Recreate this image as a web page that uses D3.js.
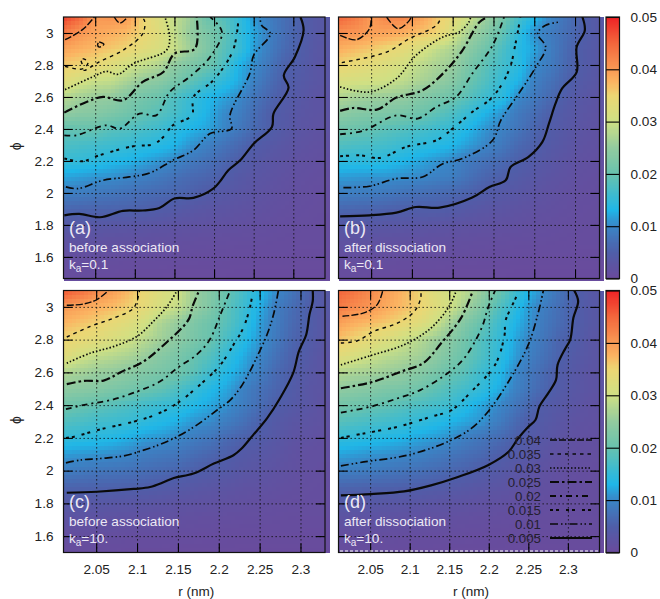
<!DOCTYPE html>
<html>
<head>
<meta charset="utf-8">
<script src="https://cdnjs.cloudflare.com/ajax/libs/d3/7.8.5/d3.min.js"></script>
<style>
html, body { margin: 0; padding: 0; background: #fff; }
svg { display: block; }
text { font-family: "Liberation Sans", Arial, sans-serif; fill: #222; }
</style>
</head>
<body>
<svg id="chart" width="660" height="599"></svg>
<script>
// Grid the heat values were read at (values are in units of 0.001)
var gridR = [2.01,2.03,2.05,2.07,2.09,2.11,2.13,2.15,2.17,2.19,2.21,2.23,2.25,2.27,2.29,2.31,2.33];
var gridPhi = [3.1,3.0,2.9,2.8,2.7,2.6,2.5,2.4,2.3,2.2,2.1,2.0,1.9,1.8,1.7,1.6,1.5];

var heatA = [
[48,45,40,40.5,40,35,32,29,26,20.5,18.5,15.5,11,9,7,5.3,3.5],
[43,40.5,39,38,37,35,32.5,29,25,22.5,20,15.5,12,9.5,7,5.2,3.5],
[39,38,37,36,35,33,31.5,29.5,26,23,19,16,11.5,9,6.5,5,3.2],
[36,35,34.5,32.5,30.5,29,27.5,24.5,22.5,20.8,18,13,10.5,8,5.5,4.5,3],
[33,31,29.5,29,27,25,24,22,19.5,17,14.8,12.5,9.5,7,5,4,3],
[28,26.5,25.5,25,23,21.5,20.3,17.8,15.5,13.5,12,10.5,8,6,4.5,3.5,2.5],
[25,24,23.5,22.5,21.2,19.8,18.5,17,15,13,10.5,9.3,7,5,4,3,2.5],
[19.5,19.8,20,18.5,18,17,16,14.5,13,12,10.3,8.5,6.5,5,3.8,2.8,2.2],
[17.5,17,16.5,16,15.5,14.5,14,13,11,9.5,8,6.5,4.8,3.8,3,2.3,1.8],
[15.3,15,14.5,13.5,13,12,11,10,8.5,7.5,6.3,5,3.8,3,2.4,1.8,1.5],
[12,11.5,11,10.7,10,9.3,8.5,7.5,6.5,6,5.1,3.8,3,2.5,1.9,1.5,1.2],
[9.2,9,8.5,8,7.5,7,6.5,6,5.5,4.5,3.7,3.1,2.6,2,1.6,1.3,1],
[6.2,6,5.8,5.8,5.6,5.3,4.8,4.2,3.5,3,2.7,2.3,2,1.6,1.3,1.1,.9],
[3.8,3.6,3.5,3.3,3.1,3,2.7,2.4,2.2,2,1.8,1.6,1.4,1.2,1,.9,.8],
[2.2,2.1,2,1.9,1.8,1.7,1.6,1.5,1.3,1.2,1.1,1,1,.9,.8,.7,.7],
[1.2,1.2,1.1,1.1,1,1,.9,.9,.8,.7,.7,.6,.6,.6,.6,.5,.5],
[.7,.7,.6,.6,.5,.5,.5,.4,.4,.4,.4,.3,.3,.3,.3,.3,.3]
];
var heatB = [
[45,43,40,42,42,39.5,36.5,33.5,30,26,22,17,13.5,10,7.5,5.2,3.5],
[41,40.5,39.5,39,38,36.5,35.5,31,26.5,23.5,19.5,15,10.5,8.7,7,5.2,3.5],
[38,37,36,34.7,33.5,31.5,29,27,24,21,17.5,14,12,9,6.5,4.5,3.5],
[35,34,33,32,30.5,28.5,27,25.5,22,19,16.5,14.5,10.5,8.7,6.2,4.5,3.3],
[31.5,31,30.5,30,28.5,27,25.5,23.5,20.5,18,15.2,13,9.5,7.5,5.5,4,3],
[27.5,26.5,26,25.5,25,23.3,22,20.5,18.5,16,14.5,10.3,8.5,6.5,4.5,3.3,2.5],
[24.5,23.5,23,22.5,21.8,20.8,19.3,17.5,15.2,13,11,8.5,7,5.2,3.8,3,2.2],
[21,20.5,19.7,18.7,18,17,16,15,13,11,9.5,8,6,4.5,3.5,2.6,2],
[18,17.3,17,16.5,15.5,14.7,14,13,11.5,10,8.5,6.5,5.3,4,3,2.2,1.8],
[14.7,14.5,14.5,14,13,12,11,10,8.5,7.5,6.5,5.3,4.2,3.2,2.5,1.8,1.5],
[11.5,11.2,11,11,10.5,10.2,9.5,9,7.5,6,5.2,4.2,3.4,2.6,2,1.5,1.2],
[9.3,9,8.8,8.3,7.7,7.2,6.7,6.2,5.5,4.6,3.8,3.2,2.6,2,1.6,1.2,1],
[6.3,6.1,5.9,5.5,5.2,4.9,5,4.4,3.7,3.1,2.7,2.3,1.9,1.6,1.3,1,.9],
[3.8,3.6,3.5,3.3,3.1,3,2.7,2.4,2.2,2,1.8,1.6,1.4,1.2,1,.9,.8],
[2.2,2.1,2,1.9,1.8,1.7,1.6,1.5,1.3,1.2,1.1,1,1,.9,.8,.7,.7],
[1.2,1.2,1.1,1.1,1,1,.9,.9,.8,.7,.7,.6,.6,.6,.6,.5,.5],
[.7,.7,.6,.6,.5,.5,.5,.4,.4,.4,.4,.3,.3,.3,.3,.3,.3]
];
var heatC = [
[46,44,41.5,39.5,37,34.5,32,30,26,23,20,17,13.5,10.5,8,5.5,3.5],
[40,39,38,37,35.5,33.5,31,29,25.5,22.5,19,16,12.5,9,7,5,3.5],
[37.5,36.5,35.5,34,32.5,30.5,27,25,22.5,20.5,18.5,15.5,11.5,9,6.5,5,3],
[35,34,33,31.5,30,28,26,24,22,20,17,14,11,8.5,6,4.5,3],
[33,30.5,29,28,27,25.5,23.5,22,20,18,15,12.5,10,7.5,5.5,4,2.5],
[27.5,26.5,25.5,25,24,23,22,21,19,16,13.5,11.5,9,6.5,5,3.5,2.5],
[24.5,24,23.5,22.5,21.5,20.5,19.5,17.5,15.5,13.5,12,9.5,7.5,6,4.5,3,2.5],
[21,20.3,19.5,18.5,17.5,16.5,15.5,15,13.5,12,10.8,9,7,5,4,3,2],
[18,17.3,16.5,16,15.5,14.5,13.5,12.5,11,10.3,9,7.5,5.5,4,3,2.5,2],
[15,14.5,14,13.5,12.5,11.5,11,10,9,8,6.5,5.5,4.5,3.5,2.5,2,1.5],
[11.5,11.2,11,10.5,10,9,8.5,8,7,6,5.2,4,3.5,2.8,2,1.5,1.5],
[9,8.5,8,7.8,7.5,7,6.5,6,5.2,4.5,4,3.2,2.8,2.2,1.8,1.4,1.2],
[5.8,5.7,5.6,5.5,5.3,5,4.5,4,3.5,3,2.7,2.2,2,1.7,1.4,1.2,1],
[3.8,3.6,3.5,3.3,3.1,3,2.7,2.4,2.2,2,1.8,1.6,1.4,1.2,1.1,1,1],
[2.2,2.1,2,1.9,1.8,1.7,1.6,1.5,1.3,1.2,1.1,1,1,.9,.8,.8,.8],
[1.2,1.2,1.1,1.1,1,1,.9,.9,.8,.7,.7,.6,.6,.6,.6,.5,.5],
[.6,.6,.6,.6,.5,.5,.5,.4,.4,.4,.4,.3,.3,.3,.3,.3,.3]
];
var heatD = [
[45,43.5,41.5,39.5,37.5,35.5,32.5,30.5,28.5,25.5,21,17,13,10.3,7.7,5.3,3.5],
[43,41.5,40.5,38.5,37,35.5,33,30.5,26.5,23,18.5,15,11.5,9,7,5,3.5],
[39.5,38,37,36,34.7,33,30.5,26.5,23,20,16.5,13.5,11,8.5,6.7,5,3.5],
[36.5,35,33.5,32,30,28,26,24,21,18,15.5,12.5,10,8,5.7,4.7,3],
[33,31.5,30,28.5,27.5,26.5,24.8,22.5,20.2,17.7,15.1,12,9.5,7.5,5.5,4,3],
[28,27,26.5,25.8,25,23.7,22.3,20.3,18.7,16,14,10.7,8.5,6.5,4.6,3.5,2.5],
[24.8,24,23.5,22.5,22,21,19.5,18,16.5,15,12.8,10,8,6,4.3,3.3,2.5],
[21.5,20.8,20.2,19.5,18.5,17.5,16.8,16,14,12,10.5,8.5,6.5,4.5,3.6,2.8,2],
[18.5,17.7,17,16.5,15.8,15,14,13,12,11,9.2,7,5,4,3,2.3,1.9],
[15,14.5,14,13.5,13,12,11.5,10.7,9.2,8,7,5.5,4.3,3.3,2.5,1.8,1.5],
[12,11.5,11,10.8,10.2,9.8,9,8.2,7.3,6.5,5.3,4.3,3.5,2.7,1.9,1.5,1.3],
[9.3,9,8.7,8.2,7.8,7.3,6.8,6.2,5.6,4.7,4,3.2,2.7,2,1.5,1.2,1],
[6,5.8,5.6,5.5,5.3,5,4.6,4.2,3.7,3.2,2.8,2.3,2,1.6,1.3,1,.9],
[3.8,3.6,3.5,3.3,3.1,3,2.7,2.5,2.3,2,1.8,1.6,1.4,1.2,1,.9,.9],
[2.2,2.1,2,1.9,1.8,1.7,1.6,1.5,1.3,1.2,1.1,1,1,.9,.8,.8,.8],
[1.2,1.2,1.1,1.1,1,1,.9,.9,.8,.7,.7,.6,.6,.6,.6,.5,.5],
[.6,.6,.6,.6,.5,.5,.5,.4,.4,.4,.4,.3,.3,.3,.3,.3,.3]
];

// Contour lines: [level, r values, phi values]
var contoursA = [
[.005,[2.011,2.030,2.056,2.085,2.110,2.131,2.150,2.174,2.199,2.207,2.218,2.233,2.250,2.273,2.275,2.294,2.288,2.302,2.313,2.309],[1.860,1.869,1.848,1.888,1.890,1.906,1.965,1.969,2.027,2.069,2.142,2.204,2.308,2.413,2.496,2.658,2.735,2.850,3.017,3.100]],
[.01,[2.013,2.028,2.060,2.093,2.119,2.148,2.174,2.195,2.222,2.220,2.245,2.250,2.271,2.260,2.258],[2.038,2.027,2.079,2.100,2.125,2.204,2.267,2.371,2.402,2.485,2.746,2.860,2.996,3.048,3.100]],
[.015,[2.011,2.034,2.055,2.098,2.123,2.136,2.148,2.172,2.174,2.199,2.224,2.231],[2.215,2.198,2.235,2.292,2.304,2.350,2.423,2.485,2.600,2.704,2.892,3.100]],
[.02,[2.011,2.026,2.064,2.081,2.106,2.127,2.144,2.169,2.195,2.210,2.195],[2.360,2.360,2.423,2.402,2.496,2.485,2.631,2.725,2.850,3.006,3.100]],
[.025,[2.011,2.039,2.060,2.085,2.110,2.136,2.150,2.176,2.178],[2.502,2.569,2.600,2.579,2.694,2.756,2.871,2.902,3.100]],
[.03,[2.012,2.051,2.064,2.079,2.098,2.140,2.144,2.138],[2.646,2.735,2.760,2.742,2.808,2.892,2.975,3.100]],
[.035,[2.012,2.034,2.032,2.041,2.036,2.055,2.085,2.110,2.112,2.106],[2.792,2.777,2.840,2.819,2.767,2.819,2.892,2.996,3.080,3.100]],
[.04,[2.012,2.034,2.049],[2.958,3.021,3.100]],
[.04,[2.074,2.081,2.091],[3.100,3.062,3.100]],
[.04,[2.055,2.061,2.055,2.053,2.055],[2.944,2.929,2.912,2.929,2.944]]
];
var contoursB = [
[.005,[2.012,2.048,2.081,2.105,2.134,2.174,2.195,2.215,2.221,2.243,2.260,2.268,2.276,2.284,2.302,2.302,2.312,2.309],[1.854,1.860,1.877,1.912,1.908,1.971,2.037,2.079,2.162,2.225,2.319,2.433,2.558,2.652,2.756,2.912,3.017,3.100]],
[.01,[2.016,2.048,2.081,2.113,2.138,2.162,2.199,2.209,2.231,2.252,2.264,2.254,2.264,2.282],[2.033,2.042,2.090,2.100,2.183,2.215,2.329,2.454,2.621,2.788,2.912,2.996,3.048,3.069]],
[.015,[2.012,2.036,2.061,2.093,2.130,2.150,2.174,2.199,2.219,2.227,2.233],[2.229,2.235,2.219,2.288,2.329,2.402,2.506,2.600,2.767,2.933,3.100]],
[.02,[2.012,2.040,2.081,2.107,2.130,2.154,2.174,2.199,2.213],[2.367,2.388,2.485,2.465,2.538,2.600,2.746,2.923,3.100]],
[.025,[2.012,2.028,2.057,2.081,2.113,2.142,2.162,2.183,2.193],[2.513,2.531,2.521,2.596,2.642,2.767,2.892,3.069,3.100]],
[.03,[2.012,2.048,2.081,2.105,2.138,2.158,2.170,2.172],[2.663,2.631,2.715,2.860,2.975,3.006,3.069,3.100]],
[.035,[2.014,2.069,2.097,2.130,2.136],[2.815,2.881,2.965,3.048,3.100]],
[.04,[2.012,2.032,2.048,2.050],[2.985,2.958,3.027,3.100]],
[.04,[2.069,2.083,2.097,2.099],[3.100,3.027,3.079,3.100]]
];
var contoursC = [
[.005,[2.014,2.051,2.096,2.116,2.133,2.145,2.169,2.194,2.218,2.228,2.242,2.259,2.275,2.291,2.298,2.307,2.311,2.315,2.315],[1.865,1.871,1.888,1.900,1.930,1.955,1.982,2.043,2.094,2.135,2.217,2.319,2.442,2.595,2.728,2.830,2.953,3.035,3.100]],
[.01,[2.013,2.031,2.055,2.084,2.108,2.128,2.149,2.173,2.198,2.214,2.226,2.238,2.248,2.259,2.267,2.273],[2.047,2.065,2.074,2.090,2.125,2.160,2.207,2.278,2.370,2.431,2.503,2.605,2.708,2.830,2.953,3.100]],
[.015,[2.013,2.023,2.055,2.096,2.124,2.149,2.177,2.202,2.218,2.230,2.238,2.242],[2.200,2.207,2.252,2.299,2.344,2.411,2.524,2.646,2.769,2.871,2.994,3.100]],
[.02,[2.013,2.039,2.068,2.100,2.128,2.149,2.173,2.189,2.202,2.214],[2.376,2.405,2.431,2.483,2.544,2.626,2.708,2.800,2.953,3.100]],
[.025,[2.014,2.035,2.059,2.080,2.108,2.133,2.163,2.168,2.176],[2.528,2.548,2.550,2.601,2.667,2.769,2.922,3.004,3.100]],
[.03,[2.014,2.043,2.072,2.100,2.120,2.137,2.149],[2.656,2.718,2.759,2.820,2.912,3.004,3.100]],
[.035,[2.014,2.043,2.072,2.096,2.103],[2.816,2.881,2.933,2.994,3.100]],
[.04,[2.014,2.035,2.051,2.065],[3.010,3.018,3.045,3.100]]
];
var contoursD = [
[.005,[2.013,2.051,2.093,2.127,2.161,2.199,2.225,2.237,2.250,2.259,2.264,2.275,2.285,2.287,2.297,2.303,2.307,2.313,2.308],[1.849,1.857,1.873,1.910,1.961,2.033,2.115,2.196,2.268,2.309,2.391,2.472,2.554,2.646,2.748,2.800,2.933,3.035,3.100]],
[.01,[2.013,2.042,2.097,2.148,2.178,2.199,2.225,2.250,2.263,2.269],[2.029,2.053,2.094,2.176,2.258,2.360,2.544,2.769,2.973,3.100]],
[.015,[2.013,2.042,2.085,2.127,2.153,2.178,2.208,2.220,2.221,2.235,2.237],[2.200,2.227,2.268,2.329,2.370,2.483,2.646,2.830,2.912,3.065,3.100]],
[.02,[2.013,2.051,2.085,2.114,2.148,2.169,2.191,2.199,2.208],[2.354,2.391,2.442,2.493,2.595,2.687,2.871,2.994,3.100]],
[.025,[2.013,2.055,2.089,2.117,2.140,2.165,2.180],[2.503,2.544,2.605,2.656,2.779,2.933,3.100]],
[.03,[2.013,2.051,2.093,2.127,2.150,2.159],[2.646,2.703,2.769,2.871,3.004,3.100]],
[.035,[2.013,2.034,2.055,2.085,2.106,2.114,2.114],[2.779,2.793,2.851,2.902,2.973,3.055,3.100]],
[.04,[2.015,2.042,2.059,2.066],[2.943,2.963,3.014,3.100]]
];

var rTicks = [2.05,2.1,2.15,2.2,2.25,2.3];
var phiTicks = [3,2.8,2.6,2.4,2.2,2,1.8,1.6];
var barTicks = [0,0.01,0.02,0.03,0.04,0.05];
var legendLevels = [.04,.035,.03,.025,.02,.015,.01,.005];

// Colour ramp of the bar
var colorStops = [0,.005,.01,.013,.02,.025,.03,.035,.0375,.04,.045,.05];
var colorValues = ["#6a4a9c","#4f5ea9","#3a85c6","#1fb6e8","#68c2ae","#93cb9f","#cfe084","#ecd673","#fbb462","#f99a55","#f3663c","#ee2225"];
var color = d3.scaleLinear().domain(colorStops).range(colorValues).clamp(true);

// Line style of each contour level
var lineStyle = {
    ".04":   {dash: "7,2",         width: 1.4},
    ".035":  {dash: "3.5,4",       width: 1.4},
    ".03":   {dash: "1.5,2",       width: 1.7},
    ".025":  {dash: "9,3,2.5,3",   width: 2.2},
    ".02":   {dash: "6,4,2,4",     width: 1.8},
    ".015":  {dash: "3,3,3,7",     width: 2},
    ".01":   {dash: "8,3,1.5,2.5,1.5,3", width: 1.7},
    ".005":  {dash: null,          width: 2.2}
};
function styleOf(level) { return lineStyle[String(level).replace(/^0/, "")]; }

var svg = d3.select("#chart");

// Reads the heat grid at any (r, phi) so the picture's small cells can be filled
function heatAt(heat, r, phi) {
    var rs = Math.max(0, Math.min(gridR.length - 1.001, (r - gridR[0]) / 0.02));
    var ps = Math.max(0, Math.min(gridPhi.length - 1.001, (gridPhi[0] - phi) / 0.1));
    var i = Math.floor(rs), j = Math.floor(ps), a = rs - i, b = ps - j;
    return ((1 - a) * (1 - b) * heat[j][i] + a * (1 - b) * heat[j][i + 1] +
            (1 - a) * b * heat[j + 1][i] + a * b * heat[j + 1][i + 1]) / 1000;
}

function drawPanel(p) {
    var x = d3.scaleLinear().domain(p.rDomain).range([p.left, p.right]);
    var y = d3.scaleLinear().domain(p.phiDomain).range([p.bottom, p.top]);
    var g = svg.append("g");

    // Heat cells
    var cells = [];
    d3.range(p.rDomain[0], p.rDomain[1], 0.005).forEach(function(r) {
        d3.range(p.phiDomain[1], p.phiDomain[0], -0.025).forEach(function(phi) {
            cells.push({r: r, phi: phi});
        });
    });
    g.append("g").attr("shape-rendering", "crispEdges").selectAll("rect")
        .data(cells).enter().append("rect")
        .attr("x", function(d) { return x(d.r); })
        .attr("y", function(d) { return y(d.phi); })
        .attr("width", function(d) { return x(d.r + 0.005) - x(d.r) + 0.6; })
        .attr("height", function(d) { return y(d.phi - 0.025) - y(d.phi) + 0.6; })
        .style("fill", function(d) { return color(heatAt(p.heat, d.r + 0.0025, d.phi - 0.0125)); });

    // Dotted grid
    var h = p.bottom - p.top, w = p.right - p.left;
    var gridX = g.append("g").attr("transform", "translate(0," + p.bottom + ")")
        .call(d3.axisBottom(x).tickValues(rTicks).tickSize(-h).tickFormat(""));
    var gridY = g.append("g").attr("transform", "translate(" + p.left + ",0)")
        .call(d3.axisLeft(y).tickValues(phiTicks).tickSize(-w).tickFormat(""));
    [gridX, gridY].forEach(function(a) {
        a.select(".domain").remove();
        a.selectAll("line").attr("stroke", "#111").attr("stroke-width", 1).attr("stroke-dasharray", "1.3,2.7");
    });

    // Contours
    var clipId = "clip" + p.name;
    svg.append("clipPath").attr("id", clipId).append("rect")
        .attr("x", p.left).attr("y", p.top).attr("width", w).attr("height", h);
    var line = d3.line().curve(d3.curveCatmullRom.alpha(0.5))
        .x(function(d) { return x(d[0]); })
        .y(function(d) { return y(d[1]); });
    g.append("g").attr("clip-path", "url(#" + clipId + ")").selectAll("path")
        .data(p.contours).enter().append("path")
        .attr("fill", "none").attr("stroke", "#0a0a0a")
        .attr("stroke-width", function(d) { return styleOf(d[0]).width; })
        .attr("stroke-dasharray", function(d) { return styleOf(d[0]).dash; })
        .attr("d", function(d) { return line(d3.zip(d[1], d[2])); });

    // Ticks on all four sides, labels only on the outer ones
    var axes = [
        [d3.axisBottom(x).tickValues(rTicks), 0, p.bottom, p.showR],
        [d3.axisTop(x).tickValues(rTicks), 0, p.top, false],
        [d3.axisLeft(y).tickValues(phiTicks), p.left, 0, p.showPhi],
        [d3.axisRight(y).tickValues(phiTicks), p.right, 0, false]
    ];
    axes.forEach(function(a) {
        var axisG = g.append("g").attr("transform", "translate(" + a[1] + "," + a[2] + ")")
            .call(a[0].tickSize(-9).tickPadding(a[1] == p.left ? 10 : 12)
                .tickFormat(a[3] ? function(d) { return d; } : ""));
        axisG.select(".domain").remove();
        axisG.selectAll("line").attr("stroke", "#000").attr("stroke-width", 1.1);
        axisG.selectAll("text").attr("font-size", 13.6).attr("font-family", null);
    });

    // Frame
    g.append("rect").attr("x", p.left).attr("y", p.top).attr("width", w).attr("height", h)
        .attr("fill", "none").attr("stroke", "#111").attr("stroke-width", 1.2);

    // Panel notes
    var note = g.append("g").attr("transform", "translate(" + (p.left + 5.5) + "," + p.top + ")");
    note.append("text").attr("y", 217).attr("font-size", 18).style("fill", "#ece8f4").text(p.label);
    note.append("text").attr("y", 235).attr("font-size", 13.6).style("fill", "#ece8f4").text(p.stage);
    var ka = note.append("text").attr("y", 252).attr("font-size", 13.6).style("fill", "#ece8f4");
    ka.append("tspan").text("k");
    ka.append("tspan").attr("dy", 3).attr("font-size", 10).text("a");
    ka.append("tspan").attr("dy", -3).text("=" + p.ka);

    // Axis names
    if (p.showR) {
        g.append("text").attr("x", (p.left + p.right) / 2 + 2).attr("y", 596).attr("text-anchor", "middle")
            .attr("font-size", 13.5).text("r (nm)");
    }
    if (p.showPhi) {
        g.append("text").attr("transform", "translate(21," + ((p.top + p.bottom) / 2 - 1.5) + ") rotate(-90)")
            .attr("text-anchor", "middle").attr("font-size", 14).text("\u03d5");
    }
}

drawPanel({name: "a", heat: heatA, contours: contoursA, rDomain: [2.01,2.34], phiDomain: [1.465,3.1],
    left: 63.5, right: 325, top: 17, bottom: 278.5, showR: false, showPhi: true,
    label: "(a)", stage: "before association", ka: "0.1"});
drawPanel({name: "b", heat: heatB, contours: contoursB, rDomain: [2.01,2.33], phiDomain: [1.465,3.1],
    left: 338.5, right: 599.5, top: 17, bottom: 278.5, showR: false, showPhi: false,
    label: "(b)", stage: "after dissociation", ka: "0.1"});
drawPanel({name: "c", heat: heatC, contours: contoursC, rDomain: [2.01,2.33], phiDomain: [1.5,3.1],
    left: 63.5, right: 325, top: 290.5, bottom: 552.5, showR: true, showPhi: true,
    label: "(c)", stage: "before association", ka: "10."});
drawPanel({name: "d", heat: heatD, contours: contoursD, rDomain: [2.01,2.34], phiDomain: [1.5,3.1],
    left: 338.5, right: 599.5, top: 290.5, bottom: 552.5, showR: true, showPhi: false,
    label: "(d)", stage: "after dissociation", ka: "10."});

// White speckled edge along the bottom of panel (d)
svg.append("line").attr("x1", 340).attr("x2", 598).attr("y1", 551).attr("y2", 551)
    .attr("stroke", "#fff").attr("stroke-width", 1).attr("stroke-dasharray", "3,2");

// Colour bars
[[17, 278.5], [290.5, 552.5]].forEach(function(pos) {
    var scale = d3.scaleLinear().domain([0, 0.05]).range([pos[1], pos[0]]);
    var bar = svg.append("g");
    bar.append("g").attr("shape-rendering", "crispEdges").selectAll("rect")
        .data(d3.range(0, 0.05, 0.0002)).enter().append("rect")
        .attr("x", 606).attr("width", 13.5)
        .attr("y", function(d) { return scale(d + 0.0002); })
        .attr("height", function(d) { return scale(d) - scale(d + 0.0002) + 0.5; })
        .style("fill", function(d) { return color(d); });
    var axisG = bar.append("g").attr("transform", "translate(619.5,0)")
        .call(d3.axisRight(scale).tickValues(barTicks).tickSize(-13.5).tickPadding(11)
            .tickFormat(function(d) { return d; }));
    axisG.select(".domain").remove();
    axisG.selectAll("line").attr("stroke", "#000").attr("stroke-width", 1.1);
    axisG.selectAll("text").attr("font-size", 13.6).attr("font-family", null);
    bar.append("rect").attr("x", 606).attr("y", pos[0]).attr("width", 13.5).attr("height", pos[1] - pos[0])
        .attr("fill", "none").attr("stroke", "#111").attr("stroke-width", 1.2);
});

// Legend inside panel (d)
var legendY = d3.scalePoint().domain(legendLevels).range([440, 538]);
var legend = svg.append("g").selectAll("g").data(legendLevels).enter().append("g")
    .attr("transform", function(d) { return "translate(0," + legendY(d) + ")"; });
legend.append("text").attr("x", 541).attr("y", 5).attr("text-anchor", "end").attr("font-size", 13.3)
    .style("fill", "#252030").text(function(d) { return d; });
legend.append("line").attr("x1", 550).attr("x2", 592).attr("stroke", "#0a0a0a")
    .attr("stroke-width", function(d) { return styleOf(d).width; })
    .attr("stroke-dasharray", function(d) { return styleOf(d).dash; });
</script>
</body>
</html>
